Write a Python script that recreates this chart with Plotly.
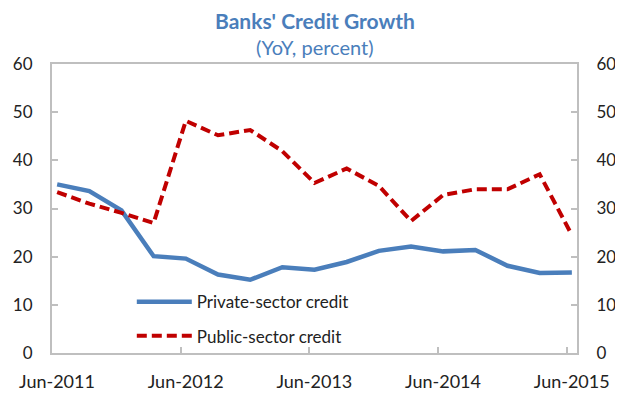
import plotly.graph_objects as go

quarters = ["Jun-2011", "Sep-2011", "Dec-2011", "Mar-2012", "Jun-2012", "Sep-2012",
            "Dec-2012", "Mar-2013", "Jun-2013", "Sep-2013", "Dec-2013", "Mar-2014",
            "Jun-2014", "Sep-2014", "Dec-2014", "Mar-2015", "Jun-2015"]
private_credit = [35.0, 33.6, 29.6, 20.1, 19.6, 16.3, 15.2, 17.8, 17.3, 18.9,
                  21.2, 22.1, 21.1, 21.4, 18.1, 16.6, 16.7]
public_credit = [33.4, 31.0, 29.1, 27.0, 48.2, 45.2, 46.3, 41.9, 35.3, 38.3,
                 34.7, 27.4, 32.8, 34.0, 34.0, 37.1, 24.5]
tick_labels = ["Jun-2011", "Jun-2012", "Jun-2013", "Jun-2014", "Jun-2015"]
y_ticks = [0, 10, 20, 30, 40, 50, 60]

FONT = "Lato"
GRAY = "#BFBFBF"
TITLE_BLUE = "#4A7EBB"
x = list(range(len(quarters)))
tick_pos = [quarters.index(t) - 0.16 for t in tick_labels]

fig = go.Figure()

fig.add_trace(
    go.Scatter(
        x=x, y=private_credit,
        name="Private-sector credit",
        mode="lines",
        legendgroup="private",
        line=dict(color="#4A7EBB", width=4.5),
        customdata=quarters,
    )
)

fig.add_trace(
    go.Scatter(
        x=x, y=public_credit,
        name="Public-sector credit",
        mode="lines",
        legendgroup="public",
        line=dict(color="#C00000", width=4, dash="10px,5px"),
        customdata=quarters,
        yaxis="y2",
    )
)

axis_common = dict(
    range=[0, 60], tickvals=y_ticks, ticks="inside", ticklen=6, tickwidth=2,
    tickcolor=GRAY, showgrid=False, zeroline=False, showline=True,
    linecolor=GRAY, linewidth=2, ticklabelstandoff=14, automargin=False,
    tickfont=dict(family=FONT, size=17, color="#222222"),
)

# the page body adds an 8px offset, so the figure is sized to the visible area
fig.update_layout(
    width=615, height=387,
    margin=dict(l=44, r=46, t=56, b=42),
    paper_bgcolor="white", plot_bgcolor="white",
    xaxis=dict(
        range=[-0.16, 16.16], tickvals=tick_pos, ticktext=tick_labels,
        ticks="inside", ticklen=6, tickwidth=2, tickcolor=GRAY,
        ticklabelshift=5, ticklabelstandoff=11, automargin=False,
        showgrid=False, zeroline=False, showline=True, mirror=True,
        linecolor=GRAY, linewidth=2,
        tickfont=dict(family=FONT, size=18, color="#222222"),
    ),
    yaxis=dict(side="left", **axis_common),
    yaxis2=dict(side="right", overlaying="y", **axis_common),
    legend=dict(
        x=0.152, y=0.238, xanchor="left", yanchor="top",
        bgcolor="rgba(0,0,0,0)", itemwidth=55, tracegroupgap=9,
        font=dict(family=FONT, size=17, color="#222222"),
    ),
    showlegend=True,
    annotations=[
        dict(text="<b>Banks' Credit Growth</b>", xref="paper", yref="paper",
             x=0.5, y=1.15, xanchor="center", yanchor="middle", showarrow=False,
             font=dict(family=FONT, size=21, color=TITLE_BLUE)),
        dict(text="(YoY, percent)", xref="paper", yref="paper",
             x=0.5, y=1.06, xanchor="center", yanchor="middle", showarrow=False,
             font=dict(family=FONT, size=20, color=TITLE_BLUE)),
    ],
)

fig.write_html("out.html")
